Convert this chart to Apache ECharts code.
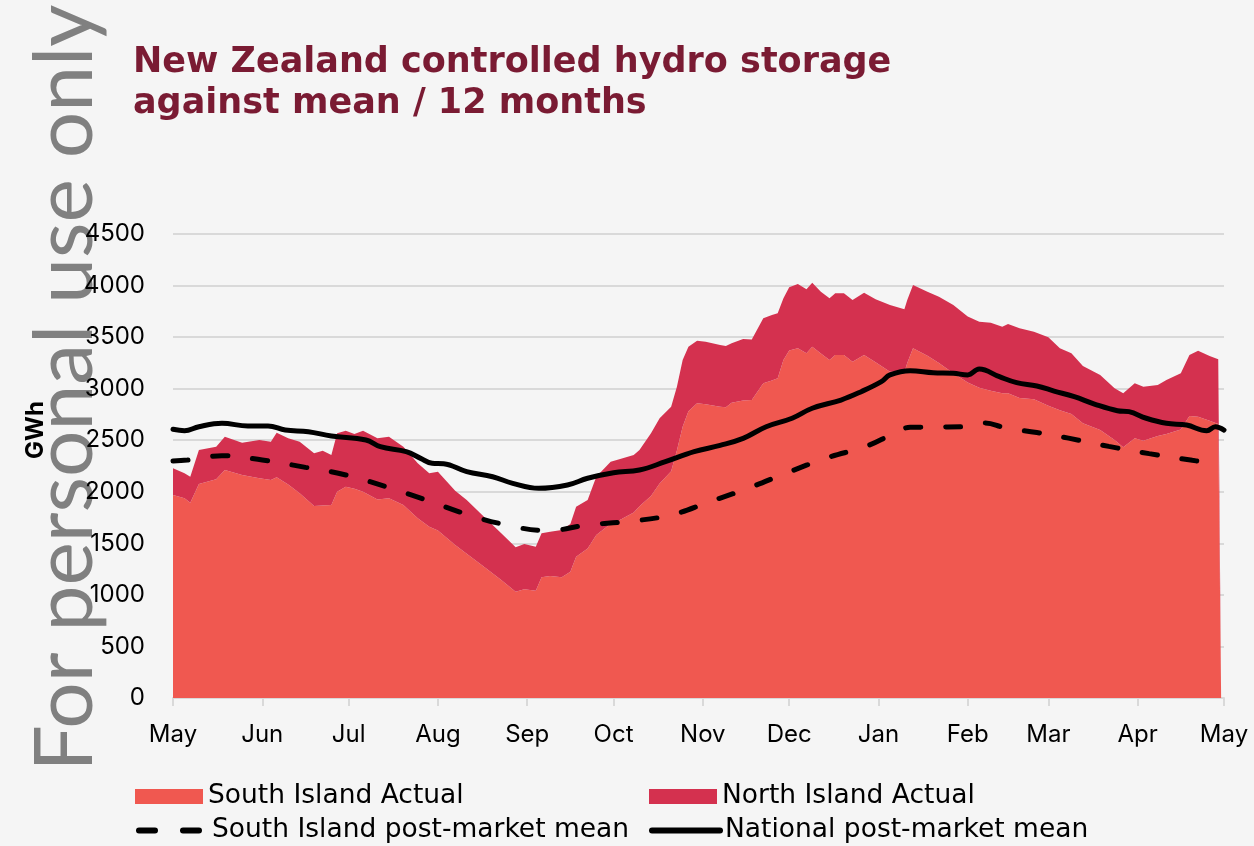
<!DOCTYPE html>
<html>
<head>
<meta charset="utf-8">
<script src="https://cdn.jsdelivr.net/npm/echarts@6/dist/echarts.min.js"></script>
<style>
  html, body { margin: 0; padding: 0; background: #f5f5f5; }
  #chart { width: 1254px; height: 846px; }
</style>
</head>
<body>
<div id="chart"></div>
<script>
// days counted from 1 May
var actualDays = [0, 4, 6, 9, 15, 18, 24, 30, 34, 36, 40, 44, 49, 52, 55, 57, 60, 63, 66, 71, 75, 80, 85, 89,
	92, 98, 102, 108, 114, 119, 122, 126, 128, 131, 135, 138, 140, 144, 147, 152, 155, 160, 162, 166, 169, 173,
	175, 177, 179, 182, 185, 190, 192, 194, 198, 201, 205, 208, 210, 212, 214, 217, 220, 222, 225, 228, 230, 233,
	236, 240, 244, 249, 254, 255, 257, 262, 266, 271, 276, 280, 284, 288, 290, 294, 299, 304, 308, 312, 316, 322,
	327, 330, 334, 337, 342, 345, 350, 353, 356, 360, 363, 364];
var southActual = [1969, 1937, 1894, 2075, 2121, 2211, 2163, 2131, 2114, 2140, 2070, 1985, 1862, 1868, 1872, 2000, 2049, 2030, 2001, 1925, 1937, 1872, 1743, 1660,
	1625, 1484, 1400, 1273, 1144, 1031, 1054, 1041, 1170, 1183, 1172, 1225, 1370, 1450, 1580, 1690, 1725, 1800, 1860, 1960, 2080, 2200,
	2400, 2631, 2780, 2858, 2850, 2825, 2819, 2864, 2885, 2890, 3052, 3080, 3100, 3278, 3370, 3391, 3343, 3407, 3340, 3278, 3326, 3326,
	3262, 3326, 3255, 3165, 3160, 3250, 3391, 3320, 3250, 3149, 3060, 3010, 2980, 2955, 2955, 2910, 2897, 2835, 2790, 2754, 2664, 2599,
	2502, 2431, 2518, 2495, 2541, 2560, 2605, 2735, 2728, 2689, 2657, 0];
var northActual = [259, 242, 252, 330, 316, 323, 313, 371, 372, 433, 448, 501, 511, 530, 485, 567, 543, 530, 591, 593, 597, 565, 533, 519,
	570, 527, 520, 485, 453, 430, 439, 426, 427, 430, 457, 462, 485, 470, 566, 602, 590, 557, 545, 607, 633, 625,
	619, 647, 627, 607, 606, 598, 595, 576, 597, 588, 630, 634, 631, 598, 613, 624, 620, 621, 600, 598, 599, 599,
	598, 605, 611, 646, 610, 610, 614, 620, 642, 662, 640, 640, 660, 646, 672, 675, 655, 663, 601, 589, 556, 533,
	501, 524, 534, 524, 494, 524, 544, 591, 640, 628, 628, 0];

var nationalDays = [0, 4, 9, 17, 26, 33, 39, 47, 55, 67, 72, 81, 86, 90, 94, 102, 111, 118, 127, 137, 144, 153, 162, 171, 181,
	190, 198, 206, 215, 222, 232, 239, 246, 249, 256, 264, 271, 276, 280, 287, 293, 300, 306, 313, 320, 328, 332, 338, 345,
	352, 359, 362, 365];
var nationalMean = [2606, 2592, 2631, 2664, 2638, 2638, 2599, 2583, 2541, 2502, 2437, 2389, 2324, 2276, 2272, 2195, 2146, 2082, 2034, 2066, 2131, 2185, 2211, 2292, 2389,
	2450, 2518, 2631, 2713, 2810, 2890, 2971, 3068, 3133, 3174, 3155, 3150, 3133, 3190, 3116, 3058, 3026, 2977, 2922, 2851, 2786, 2777, 2713, 2664,
	2647, 2592, 2631, 2599];

var southMeanDays = [0, 5, 17, 31, 46, 60, 74, 88, 101, 115, 130, 144, 158, 173, 186, 200, 213, 227, 241, 250, 256, 266, 274,
	282, 289, 300, 311, 325, 339, 354, 358];
var southMean = [2298, 2308, 2350, 2308, 2237, 2163, 2049, 1920, 1791, 1683, 1623, 1678, 1712, 1775, 1900, 2037, 2182, 2328, 2444, 2560, 2625, 2628, 2630,
	2668, 2620, 2575, 2520, 2440, 2370, 2305, 2290];

var monthNames = ['Jan', 'Feb', 'Mar', 'Apr', 'May', 'Jun', 'Jul', 'Aug', 'Sep', 'Oct', 'Nov', 'Dec'];

var southColor = '#F05850';
var northColor = '#D4314F';
var DAY = 86400000;
var startTime = new Date(2024, 4, 1).getTime();

function toPairs(days, values){
	var out = [];
	for (var i = 0; i < days.length; i++) {
		out.push([startTime + days[i] * DAY, values[i]]);
	}
	return out;
}

var labelFont = 'Inter, "DejaVu Sans", sans-serif';
var legendFont = '"DejaVu Sans", sans-serif';
var myChart = echarts.init(document.getElementById('chart'));

//legend boxes, one per item
function makeLegend(name, left, top, extra){
	var l = {
		data: [name],
		left: left,
		top: top,
		padding: 0,
		itemWidth: 68,
		itemHeight: 15,
		itemGap: 6,
		selectedMode: false,
		textStyle: { fontSize: 26.5, color: '#000', fontFamily: legendFont }
	};
	for (var k in extra) {
		l[k] = extra[k];
	}
	return l;
}

var option = {
	backgroundColor: '#f5f5f5',
	animation: false,
	title: {
		text: 'New Zealand controlled hydro storage\nagainst mean / 12 months',
		left: 133,
		top: 42,
		padding: 0,
		textStyle: {
			color: '#7A1B33',
			fontFamily: '"DejaVu Sans", sans-serif',
			fontWeight: 'bold',
			fontSize: 35,
			lineHeight: 41
		}
	},
	graphic: [
		{
			type: 'text',
			z: -10,
			x: 66,
			y: 388,
			rotation: Math.PI / 2,
			style: {
				text: 'For personal use only',
				fill: '#808080',
				font: '82px Lato, sans-serif',
				textAlign: 'center',
				textVerticalAlign: 'middle'
			}
		},
		{
			type: 'text',
			x: 36,
			y: 430,
			rotation: Math.PI / 2,
			style: {
				text: 'GWh',
				fill: '#000',
				font: 'bold 24px ' + labelFont,
				textAlign: 'center',
				textVerticalAlign: 'middle'
			}
		}
	],
	legend: [
		makeLegend({ name: 'South Island Actual', icon: 'rect' }, 135, 783),
		makeLegend({ name: 'North Island Actual', icon: 'rect' }, 649, 783),
		makeLegend('South Island post-market mean', 136, 817, {
			itemStyle: { opacity: 0 },
			lineStyle: { width: 6, type: [16, 28], cap: 'round' }
		}),
		makeLegend('National post-market mean', 649, 817, {
			itemStyle: { opacity: 0 },
			lineStyle: { width: 6 }
		})
	],
	grid: {
		left: 173,
		right: 30,
		top: 234,
		bottom: 148,
		containLabel: false
	},
	xAxis: {
		type: 'time',
		min: startTime,
		max: startTime + 365 * DAY,
		splitNumber: 12,
		minInterval: 28 * DAY,
		maxInterval: 31 * DAY,
		axisLine: { lineStyle: { color: '#d9d9d9', width: 2 } },
		axisTick: { show: true, length: 8, lineStyle: { color: '#d9d9d9', width: 2 } },
		splitLine: { show: false },
		axisLabel: {
			fontSize: 24,
			color: '#000',
			fontFamily: labelFont,
			margin: 25,
			showMinLabel: true,
			showMaxLabel: true,
			hideOverlap: false,
			formatter: function(v){
				return monthNames[new Date(v).getMonth()];
			}
		}
	},
	yAxis: {
		type: 'value',
		min: 0,
		max: 4500,
		interval: 500,
		axisLine: { show: false },
		axisTick: { show: false },
		splitLine: { lineStyle: { color: '#d9d9d9', width: 2 } },
		axisLabel: {
			fontSize: 24,
			color: '#000',
			fontFamily: labelFont,
			margin: 28,
			formatter: function(v){
				return String(v);
			}
		}
	},
	series: [
		{
			name: 'South Island Actual',
			type: 'line',
			stack: 'actual',
			data: toPairs(actualDays, southActual),
			symbol: 'none',
			lineStyle: { width: 0 },
			itemStyle: { color: southColor },
			areaStyle: { color: southColor, opacity: 1 },
			z: 1
		},
		{
			name: 'North Island Actual',
			type: 'line',
			stack: 'actual',
			data: toPairs(actualDays, northActual),
			symbol: 'none',
			lineStyle: { width: 0 },
			itemStyle: { color: northColor },
			areaStyle: { color: northColor, opacity: 1 },
			z: 1
		},
		{
			name: 'South Island post-market mean',
			type: 'line',
			data: toPairs(southMeanDays, southMean),
			symbol: 'none',
			smooth: 0.4,
			itemStyle: { color: '#000' },
			lineStyle: { color: '#000', width: 5, type: [15, 25], cap: 'round' },
			z: 3
		},
		{
			name: 'National post-market mean',
			type: 'line',
			data: toPairs(nationalDays, nationalMean),
			symbol: 'none',
			smooth: 0.4,
			itemStyle: { color: '#000' },
			lineStyle: { color: '#000', width: 5, cap: 'round', join: 'round' },
			z: 4
		}
	]
};
myChart.setOption(option);
</script>
</body>
</html>
